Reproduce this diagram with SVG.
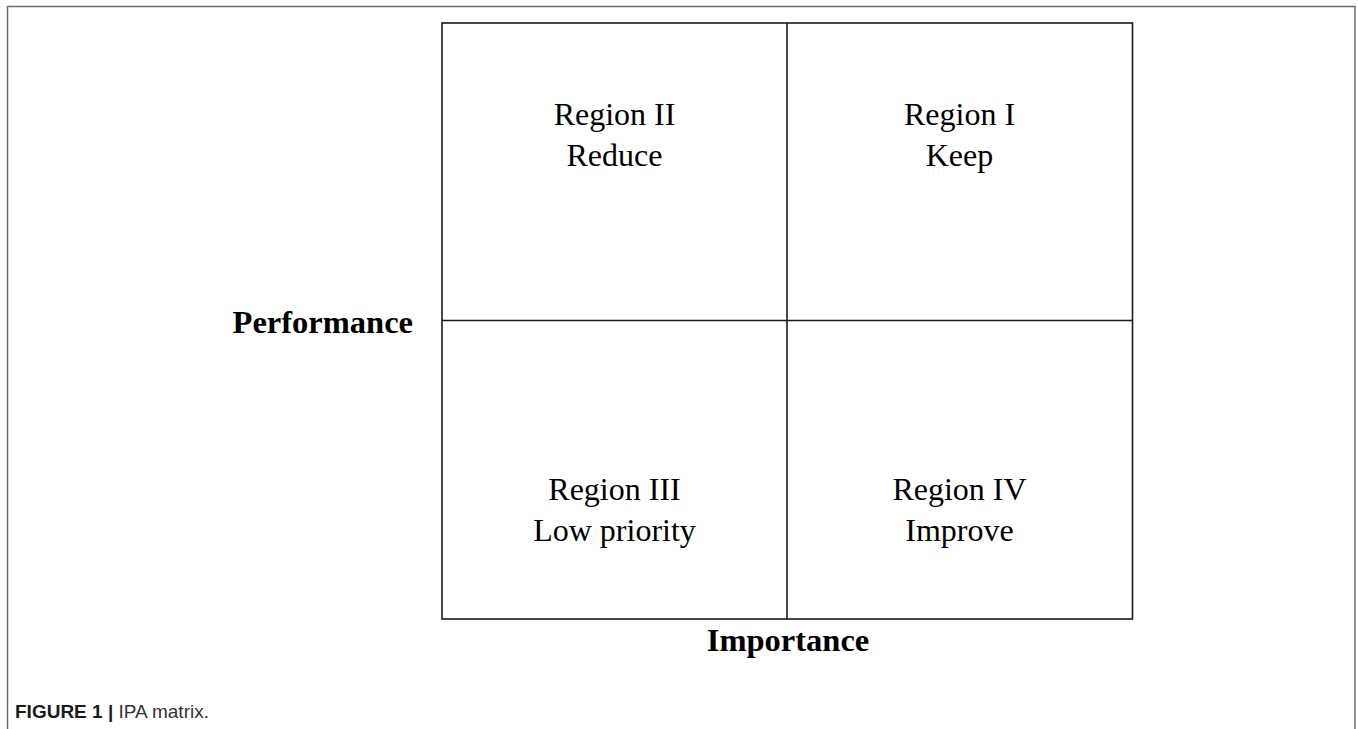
<svg xmlns="http://www.w3.org/2000/svg" width="1358" height="729" viewBox="0 0 1358 729">
<style>
.frame{fill:none;stroke:#6d6d6d;stroke-width:1.5}
.grid{fill:none;stroke:#1a1a1a;stroke-width:1.6}
.lbl{font-family:"Liberation Serif","Times New Roman",serif;font-size:32px;fill:#000;text-anchor:middle}
.axis{font-family:"Liberation Serif","Times New Roman",serif;font-size:32.5px;font-weight:bold;fill:#000}
.cap{font-family:"Liberation Sans",Arial,sans-serif;font-size:19px;fill:#333}
</style>
<rect width="1358" height="729" fill="#fff"/>
<path class="frame" d="M7.5,729 V6.5 H1355 V729"/>
<g id="connectors">
<rect class="grid" x="442" y="23" width="690.5" height="596"/>
<line class="grid" x1="787" y1="23" x2="787" y2="619"/>
<line class="grid" x1="442" y1="320.5" x2="1132.5" y2="320.5"/>
</g>
<g id="region2"><text class="lbl" x="614.5" y="125">Region II</text><text class="lbl" x="614.5" y="166">Reduce</text></g>
<g id="region1"><text class="lbl" x="959.5" y="125">Region I</text><text class="lbl" x="959.5" y="166">Keep</text></g>
<g id="region3"><text class="lbl" x="614.5" y="500">Region III</text><text class="lbl" x="614.5" y="541">Low priority</text></g>
<g id="region4"><text class="lbl" x="959.5" y="500">Region IV</text><text class="lbl" x="959.5" y="541">Improve</text></g>
<g id="yaxis"><text class="axis" x="413" y="333" text-anchor="end">Performance</text></g>
<g id="xaxis"><text class="axis" x="788" y="651" text-anchor="middle">Importance</text></g>
<g id="caption"><text class="cap" x="15" y="718"><tspan font-weight="bold" fill="#1a1a1a">FIGURE 1 |</tspan> IPA matrix.</text></g>
</svg>
